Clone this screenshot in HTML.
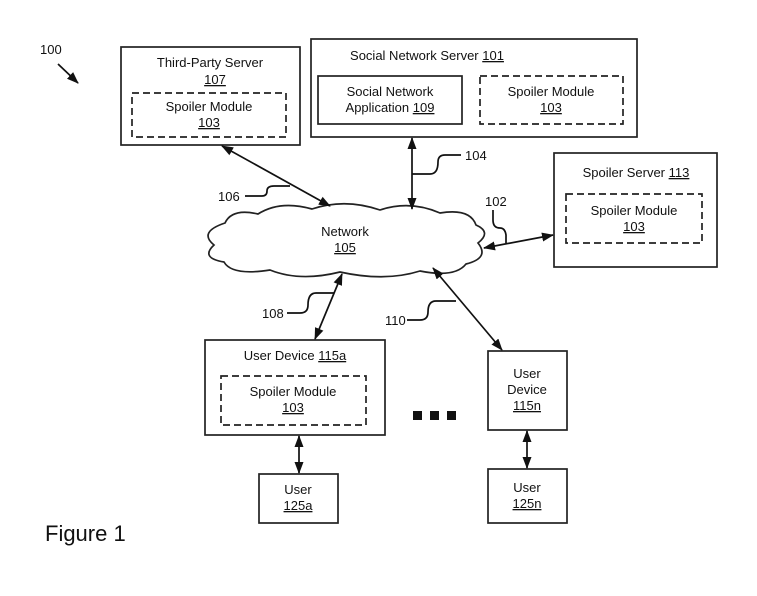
<!DOCTYPE html>
<html><head><style>
html,body{margin:0;padding:0;background:#fff;}
svg text{font-family:"Liberation Sans",Arial,sans-serif;font-size:13px;fill:#111;}
</style></head><body>
<svg width="757" height="591" viewBox="0 0 757 591" xmlns="http://www.w3.org/2000/svg">
<defs>
<marker id="a" viewBox="0 0 12 10" refX="11" refY="5" markerWidth="12" markerHeight="10" orient="auto-start-reverse" markerUnits="userSpaceOnUse"><path d="M0,0.5 L12,5 L0,9.5 z" fill="#111"/></marker>
</defs>
<g fill="none" stroke="#222" stroke-width="1.7">
<rect x="121" y="47" width="179" height="98"/>
<rect x="132" y="93" width="154" height="44" stroke-dasharray="7,4"/>
<rect x="311" y="39" width="326" height="98"/>
<rect x="318" y="76" width="144" height="48"/>
<rect x="480" y="76" width="143" height="48" stroke-dasharray="7,4"/>
<rect x="554" y="153" width="163" height="114"/>
<rect x="566" y="194" width="136" height="49" stroke-dasharray="7,4"/>
<rect x="205" y="340" width="180" height="95"/>
<rect x="221" y="376" width="145" height="49" stroke-dasharray="7,4"/>
<rect x="259" y="474" width="79" height="49"/>
<rect x="488" y="351" width="79" height="79"/>
<rect x="488" y="469" width="79" height="54"/>
<path d="M225,223 Q232,208 258,214 Q280,200 312,209 Q345,198 380,210 Q410,200 440,213 Q470,208 476,225 Q492,232 478,243 Q490,258 466,264 Q455,278 420,271 Q385,282 340,272 Q300,282 270,270 Q232,276 224,262 Q200,258 214,245 Q198,232 225,223 Z" fill="#fff"/>
</g>
<g stroke="#111" stroke-width="1.7" fill="none">
<line x1="222" y1="146" x2="330" y2="206" marker-start="url(#a)" marker-end="url(#a)"/>
<line x1="412" y1="138" x2="412" y2="209" marker-start="url(#a)" marker-end="url(#a)"/>
<line x1="484" y1="248" x2="553" y2="235" marker-start="url(#a)" marker-end="url(#a)"/>
<line x1="342" y1="274" x2="315" y2="339" marker-start="url(#a)" marker-end="url(#a)"/>
<line x1="433" y1="268" x2="502" y2="350" marker-start="url(#a)" marker-end="url(#a)"/>
<line x1="299" y1="436" x2="299" y2="473" marker-start="url(#a)" marker-end="url(#a)"/>
<line x1="527" y1="431" x2="527" y2="468" marker-start="url(#a)" marker-end="url(#a)"/>
<line x1="58" y1="64" x2="78" y2="83" marker-end="url(#a)"/>
<path d="M245,196 H262 Q267,196 267,191 Q267,186 274,186 H290"/>
<path d="M461,155 H445 Q438,155 438,162 Q438,174 430,174 H412"/>
<path d="M493,210 V220 Q493,228 500,228 Q505,228 506,235 V243"/>
<path d="M287,313 H300 Q308,313 308,305 Q308,293 316,293 H334"/>
<path d="M407,320 H420 Q428,320 428,312 Q428,301 436,301 H456"/>
</g>
<g fill="#111">
<rect x="413" y="411" width="9" height="9"/><rect x="430" y="411" width="9" height="9"/><rect x="447" y="411" width="9" height="9"/>
</g>
<g text-anchor="middle">
<text x="210" y="67">Third-Party Server</text>
<text x="215" y="84" text-decoration="underline">107</text>
<text x="209" y="111">Spoiler Module</text>
<text x="209" y="127" text-decoration="underline">103</text>
<text x="427" y="60">Social Network Server <tspan text-decoration="underline">101</tspan></text>
<text x="390" y="96">Social Network</text>
<text x="390" y="112">Application <tspan text-decoration="underline">109</tspan></text>
<text x="551" y="96">Spoiler Module</text>
<text x="551" y="112" text-decoration="underline">103</text>
<text x="636" y="177">Spoiler Server <tspan text-decoration="underline">113</tspan></text>
<text x="634" y="215">Spoiler Module</text>
<text x="634" y="231" text-decoration="underline">103</text>
<text x="345" y="236">Network</text>
<text x="345" y="252" text-decoration="underline">105</text>
<text x="295" y="360">User Device <tspan text-decoration="underline">115a</tspan></text>
<text x="293" y="396">Spoiler Module</text>
<text x="293" y="412" text-decoration="underline">103</text>
<text x="298" y="494">User</text>
<text x="298" y="510" text-decoration="underline">125a</text>
<text x="527" y="378">User</text>
<text x="527" y="394">Device</text>
<text x="527" y="410" text-decoration="underline">115n</text>
<text x="527" y="492">User</text>
<text x="527" y="508" text-decoration="underline">125n</text>
</g>
<text x="40" y="54">100</text>
<text x="218" y="201">106</text>
<text x="465" y="160">104</text>
<text x="485" y="206">102</text>
<text x="262" y="318">108</text>
<text x="385" y="325">110</text>
<text x="45" y="541" style="font-size:22px">Figure 1</text>
</svg>
</body></html>
